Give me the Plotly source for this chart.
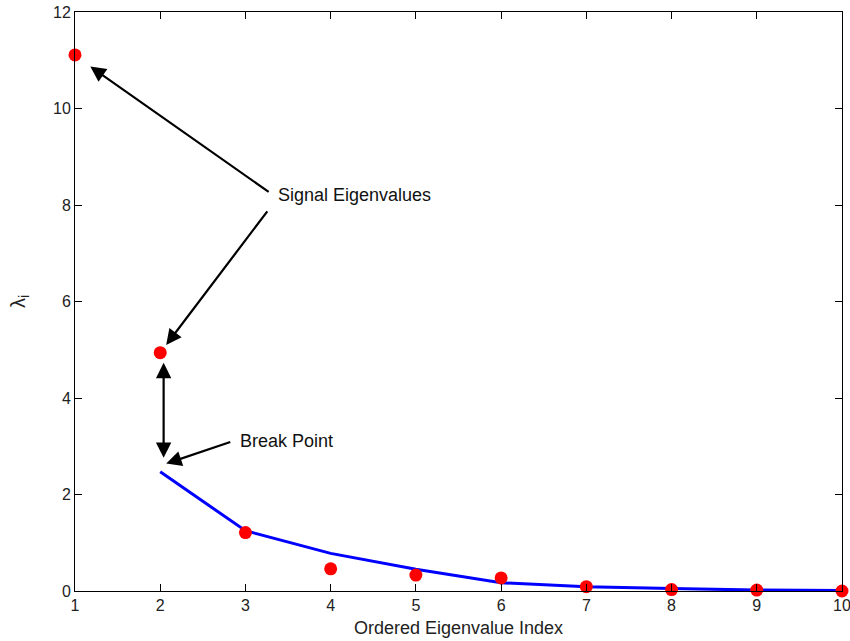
import plotly.graph_objects as go

idx = [1, 2, 3, 4, 5, 6, 7, 8, 9, 10]
eig_vals = [11.11, 4.94, 1.21, 0.46, 0.33, 0.27, 0.09, 0.03, 0.02, 0.0]
fit_idx = [2, 3, 4, 5, 6, 7, 8, 9, 10]
fit_vals = [2.47, 1.25, 0.78, 0.45, 0.17, 0.09, 0.05, 0.02, 0.01]
x_ticks = [1, 2, 3, 4, 5, 6, 7, 8, 9, 10]
y_ticks = [0, 2, 4, 6, 8, 10, 12]

FONT = "Liberation Sans, Arial, sans-serif"

fig = go.Figure()
fig.add_trace(go.Scatter(x=fit_idx, y=fit_vals, mode="lines",
                         line=dict(color="#0000ff", width=3), cliponaxis=False))
fig.add_trace(go.Scatter(x=idx, y=eig_vals, mode="markers",
                         marker=dict(color="#ff0000", size=13), cliponaxis=False))

arrow = dict(showarrow=True, arrowhead=2, arrowsize=1.4, arrowwidth=2.2,
             arrowcolor="black", axref="x", ayref="y", xref="x", yref="y", text="")
fig.add_annotation(x=1.18, y=10.87, ax=3.29, ay=8.25, **arrow)
fig.add_annotation(x=2.07, y=5.10, ax=3.27, ay=7.90, **arrow)
fig.add_annotation(x=2.07, y=2.64, ax=2.84, ay=3.10, **arrow)
fig.add_annotation(x=2.04, y=2.76, ax=2.04, ay=4.76, arrowside="end+start",
                   **arrow)

fig.add_annotation(x=3.36, y=8.21, text="Signal Eigenvalues", showarrow=False,
                   xanchor="left", yanchor="middle", font=dict(size=18, color="#111", family=FONT))
fig.add_annotation(x=2.91, y=3.10, text="Break Point", showarrow=False,
                   xanchor="left", yanchor="middle", font=dict(size=18, color="#111", family=FONT))

axis_common = dict(showgrid=False, zeroline=False, showline=True, linecolor="black",
                   linewidth=1, mirror="ticks", ticks="inside", ticklen=7,
                   tickcolor="black", automargin=False, ticklabeloverflow="allow",
                   tickfont=dict(size=16, family=FONT, color="#222"))
fig.update_xaxes(range=[1, 10], tickvals=x_ticks,
                 title=dict(text="Ordered Eigenvalue Index", standoff=8,
                            font=dict(size=18, family=FONT, color="#222")),
                 **axis_common)
fig.update_yaxes(range=[0, 12], tickvals=y_ticks,
                 title=dict(text="λ<sub>i</sub>", standoff=22,
                            font=dict(size=20, family=FONT, color="#222")),
                 **axis_common)

fig.update_layout(width=850, height=641, showlegend=False,
                  paper_bgcolor="white", plot_bgcolor="white",
                  margin=dict(l=75, r=8, t=12, b=50),
                  font=dict(family=FONT))
fig.write_html("out.html")
